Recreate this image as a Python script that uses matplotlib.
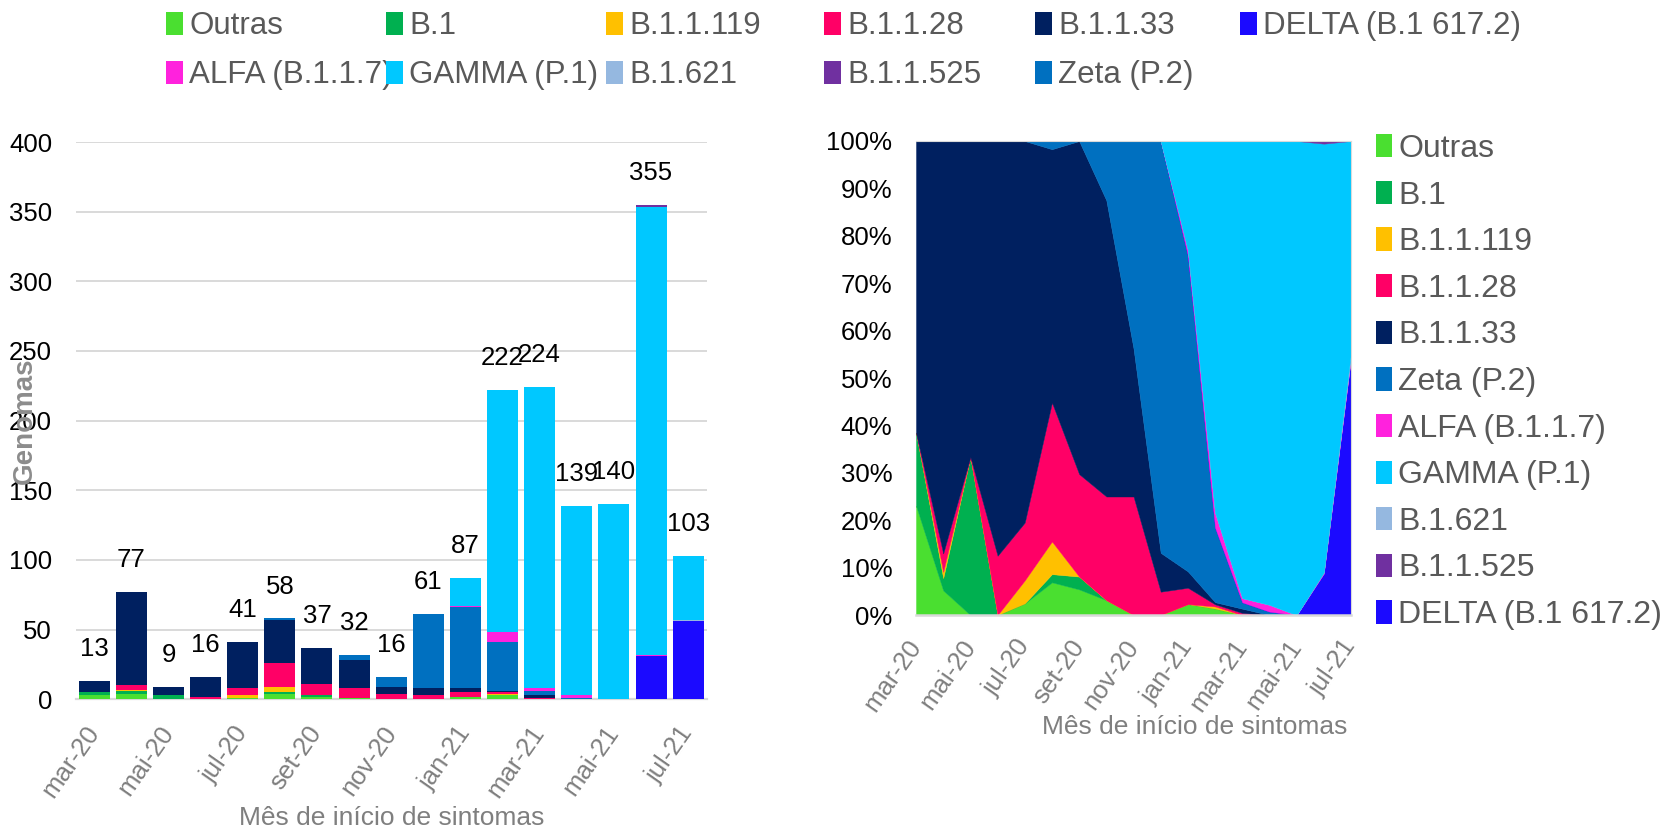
import numpy as np
import matplotlib
matplotlib.use('Agg')
import matplotlib.pyplot as plt
from matplotlib.patches import Patch
from matplotlib.ticker import FuncFormatter

plt.rcParams['font.family'] = ['Liberation Sans', 'DejaVu Sans']

# ---------------- data ----------------
months = ['mar-20', 'abr-20', 'mai-20', 'jun-20', 'jul-20', 'ago-20', 'set-20',
          'out-20', 'nov-20', 'dez-20', 'jan-21', 'fev-21', 'mar-21', 'abr-21',
          'mai-21', 'jun-21', 'jul-21']

outras    = [3, 4, 0, 0, 1, 4, 2, 1, 0, 0, 2, 3, 0, 0, 0, 0, 0]
b1        = [2, 2, 3, 0, 0, 1, 1, 0, 0, 0, 0, 0, 0, 0, 0, 0, 0]
b11119    = [0, 1, 0, 0, 2, 4, 0, 0, 0, 0, 0, 1, 0, 0, 0, 0, 0]
b1128     = [0, 3, 0, 2, 5, 17, 8, 7, 4, 3, 3, 1, 1, 0, 0, 0, 0]
b1133     = [8, 67, 6, 14, 33, 31, 26, 20, 5, 5, 3, 1, 2, 0, 0, 0, 0]
zeta      = [0, 0, 0, 0, 0, 1, 0, 4, 7, 53, 58, 35, 3, 1, 0, 0, 0]
delta     = [0, 0, 0, 0, 0, 0, 0, 0, 0, 0, 0, 0, 0, 0, 0, 31, 56]
alfa      = [0, 0, 0, 0, 0, 0, 0, 0, 0, 0, 1, 7, 2, 2, 0, 1, 0]
b1621     = [0, 0, 0, 0, 0, 0, 0, 0, 0, 0, 0, 0, 0, 0, 0, 0, 1]
gamma     = [0, 0, 0, 0, 0, 0, 0, 0, 0, 0, 20, 174, 216, 136, 140, 321, 46]
b11525    = [0, 0, 0, 0, 0, 0, 0, 0, 0, 0, 0, 0, 0, 0, 0, 2, 0]

# stacking order (bottom -> top)
series = [
    ('Outras', outras, '#4ADF30'),
    ('B.1', b1, '#00B050'),
    ('B.1.1.119', b11119, '#FFC000'),
    ('B.1.1.28', b1128, '#FF0066'),
    ('B.1.1.33', b1133, '#002060'),
    ('Zeta (P.2)', zeta, '#0070C0'),
    ('DELTA (B.1 617.2)', delta, '#1B0AFF'),
    ('ALFA (B.1.1.7)', alfa, '#FF22DD'),
    ('B.1.621', b1621, '#95B8E0'),
    ('GAMMA (P.1)', gamma, '#00C8FF'),
    ('B.1.1.525', b11525, '#7030A0'),
]
color_of = {n: c for n, _, c in series}

# legend layouts
top_legend_cols = [['Outras', 'ALFA (B.1.1.7)'], ['B.1', 'GAMMA (P.1)'],
                   ['B.1.1.119', 'B.1.621'], ['B.1.1.28', 'B.1.1.525'],
                   ['B.1.1.33', 'Zeta (P.2)'], ['DELTA (B.1 617.2)']]
right_legend_order = ['Outras', 'B.1', 'B.1.1.119', 'B.1.1.28', 'B.1.1.33',
                      'Zeta (P.2)', 'ALFA (B.1.1.7)', 'GAMMA (P.1)', 'B.1.621',
                      'B.1.1.525', 'DELTA (B.1 617.2)']

xlabel_text = 'Mês de início de sintomas'
ylabel_text = 'Genomas'

# ---------------- figure ----------------
W, H = 1664, 830
fig = plt.figure(figsize=(W / 100, H / 100), dpi=100)

def fx(px):
    return px / W

def fy(py):
    return 1 - py / H

TXT_GRAY = '#595959'
TICK_GRAY = '#7F7F7F'
GRID = '#D9D9D9'

# ---------- left: stacked bars ----------
axL = fig.add_axes([fx(75.7), fy(699.3), fx(706.7) - fx(75.7), fy(142) - fy(699.3)])
x = np.arange(len(months))
bottom = np.zeros(len(months))
for name, vals, col in series:
    v = np.array(vals, dtype=float)
    axL.bar(x, v, bottom=bottom, width=0.835, color=col, linewidth=0, zorder=3)
    bottom += v
totals = bottom.astype(int)
for xi, t in zip(x, totals):
    axL.annotate(str(t), (xi, t), xytext=(0, 23), textcoords='offset points',
                 ha='center', va='center', fontsize=18.5, color='black', zorder=5)

axL.set_xlim(-0.5, len(months) - 0.5)
axL.set_ylim(0, 400)
axL.set_yticks(np.arange(0, 401, 50))
axL.yaxis.grid(True, color=GRID, linewidth=1.4, zorder=0)
axL.set_axisbelow(True)
for s in ['top', 'right', 'left']:
    axL.spines[s].set_visible(False)
axL.spines['bottom'].set_color(GRID)
axL.spines['bottom'].set_linewidth(1.6)
axL.tick_params(axis='y', length=0, pad=17, labelsize=18.5, labelcolor='black')
axL.set_xticks(x[::2])
axL.set_xticklabels(months[::2])
axL.tick_params(axis='x', length=0, pad=21, labelsize=18.5, labelcolor=TICK_GRAY)
plt.setp(axL.get_xticklabels(), rotation=55, ha='right', va='center',
         rotation_mode='anchor')
axL.set_xlabel(xlabel_text, fontsize=19, color=TICK_GRAY, va='center')
axL.xaxis.set_label_coords(0.5, -0.213)
axL.set_ylabel(ylabel_text, fontsize=20, color='#8C8C8C', fontweight='bold',
               va='center')
axL.yaxis.set_label_coords(-0.080, 0.5)

# ---------- right: 100% stacked area ----------
axR = fig.add_axes([fx(916), fy(615), fx(1351) - fx(916), fy(141) - fy(615)])
tot = np.array(totals, dtype=float)
pct = [np.array(vals, dtype=float) / tot for _, vals, _ in series]
polys = axR.stackplot(x, *pct, colors=[c for _, _, c in series], linewidth=0)
for p in polys:
    p.set_edgecolor(p.get_facecolor())
    p.set_linewidth(0.3)
axR.set_xlim(0, len(months) - 1)
axR.set_ylim(0, 1)
axR.set_yticks(np.arange(0, 1.01, 0.1))
axR.yaxis.set_major_formatter(FuncFormatter(lambda v, _: f'{int(round(v * 100))}%'))
axR.tick_params(axis='y', length=0, pad=17, labelsize=18.5, labelcolor='black')
axR.set_xticks(x[::2])
axR.set_xticklabels(months[::2])
axR.tick_params(axis='x', length=0, pad=19.5, labelsize=18.5, labelcolor=TICK_GRAY)
plt.setp(axR.get_xticklabels(), rotation=55, ha='right', va='center',
         rotation_mode='anchor')
for s in ['top', 'right', 'left']:
    axR.spines[s].set_color(GRID)
    axR.spines[s].set_linewidth(0.8)
axR.spines['left'].set_visible(False)
axR.spines['bottom'].set_color(GRID)
axR.spines['bottom'].set_linewidth(1.8)
axR.set_xlabel(xlabel_text, fontsize=19, color=TICK_GRAY, va='center')
axR.xaxis.set_label_coords(0.641, -0.236)

# ---------- legends ----------
def handle(name):
    return Patch(facecolor=color_of[name], edgecolor='none')

col_x = [166, 386, 606, 824, 1035, 1240]
for cx, names in zip(col_x, top_legend_cols):
    fig.legend([handle(n) for n in names], names, loc='upper left',
               bbox_to_anchor=(fx(cx), fy(11)), bbox_transform=fig.transFigure,
               frameon=False, borderpad=0, borderaxespad=0,
               handlelength=0.55, handleheight=0.76, handletextpad=0.2,
               labelspacing=0.62, fontsize=22.5, labelcolor=TXT_GRAY)

fig.legend([handle(n) for n in right_legend_order], right_legend_order,
           loc='upper left', bbox_to_anchor=(fx(1376), fy(134)),
           bbox_transform=fig.transFigure, frameon=False, borderpad=0,
           borderaxespad=0, handlelength=0.5, handleheight=0.74,
           handletextpad=0.2, labelspacing=0.52, fontsize=23,
           labelcolor=TXT_GRAY)

fig.savefig('out.png', dpi=100)
